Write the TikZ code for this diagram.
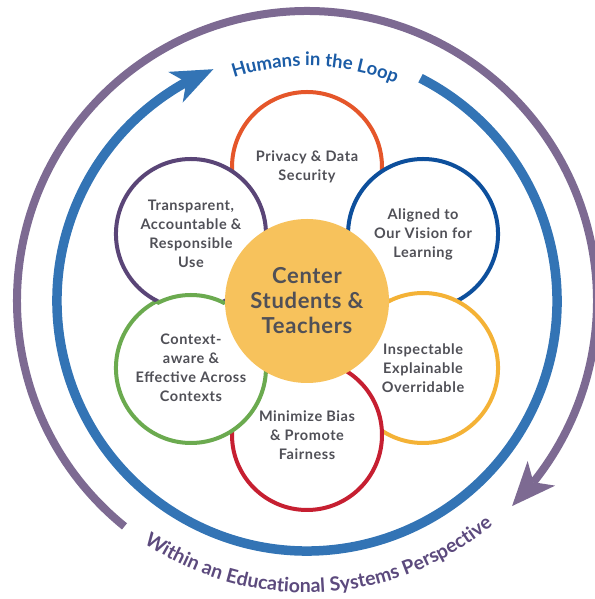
\documentclass[tikz,border=0pt]{standalone}
\usepackage{fontspec}
\setmainfont{Lato}
\usetikzlibrary{calc,positioning,arrows.meta,bending,decorations.text}

\definecolor{ringblue}{HTML}{3374B5}
\definecolor{ringpurple}{HTML}{7D6A92}
\definecolor{loopblue}{HTML}{1B5CA6}
\definecolor{systpurple}{HTML}{5C4A7D}
\definecolor{txtgray}{HTML}{505057}
\definecolor{hubfill}{HTML}{F7C25C}
\definecolor{cprivacy}{HTML}{E5562A}
\definecolor{caligned}{HTML}{0D4F9C}
\definecolor{cinspect}{HTML}{F4B236}
\definecolor{cbias}{HTML}{C61F31}
\definecolor{ccontext}{HTML}{6BAA4F}
\definecolor{ctransp}{HTML}{5A4577}

\begin{document}
\begin{tikzpicture}[x=1pt,y=1pt]
	\tikzstyle{value}=[circle, draw, line width=4pt, fill=white, minimum size=150pt, inner sep=0pt, align=center, text=txtgray, font=\fontsize{14.5}{19}\selectfont\bfseries\addfontfeatures{LetterSpace=4}]
	\tikzstyle{hub}=[circle, fill=hubfill, minimum size=164pt, inner sep=0pt, align=center, text=txtgray, font=\fontsize{22}{25}\selectfont\bfseries\addfontfeatures{LetterSpace=3}]
	\tikzstyle{loop}=[draw=ringblue, line width=9.5pt, -{Stealth[length=42pt,width=34pt,inset=12pt,line width=0pt]}]
	\tikzstyle{system}=[draw=ringpurple, line width=8pt, -{Stealth[length=44pt,width=37pt,inset=12pt,line width=0pt]}]

	\useasboundingbox (0,0) rectangle (594,599);
	\coordinate (mid) at (307,298);

	% the six values, each one lying over the next
	\node (privacy) [value, draw=cprivacy] at ($(mid)+(90:134)$) {Privacy \& Data\\Security};
	\node (aligned) [value, draw=caligned] at ($(mid)+(30:134)$) {Aligned to\\Our Vision for\\Learning};
	\node (inspect) [value, draw=cinspect] at ($(mid)+(-30:134)$) {Inspectable\\Explainable\\Overridable};
	\node (bias) [value, draw=cbias] at ($(mid)+(-90:134)$) {Minimize Bias\\\& Promote\\Fairness};
	\node (context) [value, draw=ccontext] at ($(mid)+(210:134)$) {Context-\\aware \&\\Effective Across\\Contexts};
	\node (transp) [value, draw=ctransp] at ($(mid)+(150:134)$) {Transparent,\\Accountable \&\\Responsible\\Use};
	\begin{scope}
		\clip (transp.center) circle (78);
		\draw[ccontext, line width=4pt, fill=white] (context.center) circle (73);
	\end{scope}

	\node (hub) [hub] at (mid) {Center\\Students \&\\Teachers};

	% rings
	\coordinate (loopstart) at ($(mid)+(63:250)$);
	\coordinate (sysstart) at ($(mid)+(231:290)$);
	\draw[loop] (loopstart) arc[start angle=63, end angle=-248, radius=250];
	\draw[system] (sysstart) arc[start angle=231, end angle=-45, radius=290];

	\coordinate (looptext) at ($(mid)+(118:235)$);
	\coordinate (systext) at ($(mid)+(220:292)$);
	\path[decorate, decoration={text along path, text align=center, text color=loopblue,
		text={|\fontsize{18.5}{18.5}\selectfont\bfseries|Humans in the Loop}}]
		(looptext) arc[start angle=118, end angle=58, radius=235];
	\path[decorate, decoration={text along path, text align=center, text color=systpurple,
		text={|\fontsize{19.5}{19.5}\selectfont\bfseries|Within an Educational Systems Perspective}}]
		(systext) arc[start angle=220, end angle=326, radius=291];
\end{tikzpicture}
\end{document}
